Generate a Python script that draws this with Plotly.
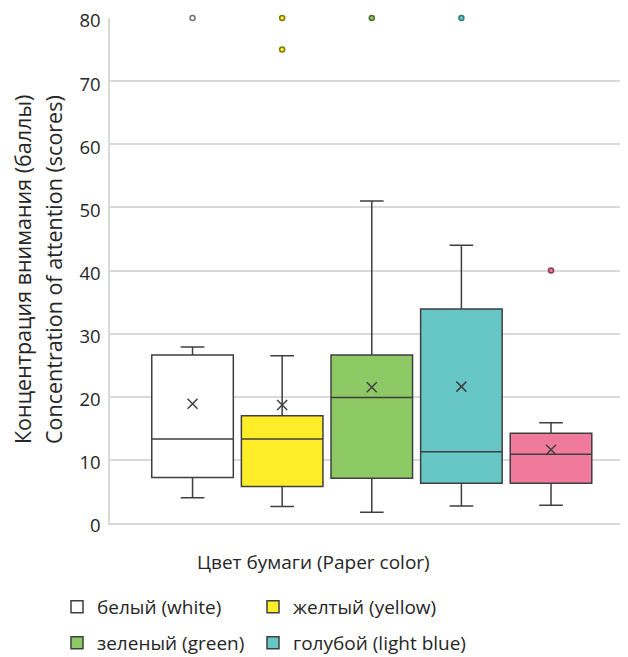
import plotly.graph_objects as go

names = ["белый (white)", "желтый (yellow)", "зеленый (green)", "голубой (light blue)", "розовый (pink)"]
positions = [0, 1, 2, 3, 4]
lower_fence = [4.0, 2.6, 1.7, 2.7, 2.8]
q1 = [7.2, 5.8, 7.1, 6.3, 6.3]
median = [13.3, 13.3, 19.9, 11.3, 10.9]
q3 = [26.6, 17.0, 26.6, 33.9, 14.2]
upper_fence = [27.9, 26.5, 51.0, 44.0, 15.9]
means = [18.9, 18.7, 21.5, 21.6, 11.6]
outliers = [[80], [80, 75], [80], [80], [40]]
fill_colors = ["#ffffff", "#ffed2a", "#8dc965", "#67c7c7", "#f07a9c"]
outlier_line = ["#707070", "#7a7a10", "#4d6e2c", "#2e7a7a", "#8a3a55"]
legend_ids = ["legend", "legend2", "legend3", "legend4", None]
y_ticks = [0, 10, 20, 30, 40, 50, 60, 70, 80]

fig = go.Figure()
for i in range(len(names)):
    fig.add_trace(go.Box(
        x=[positions[i]], name=names[i],
        q1=[q1[i]], median=[median[i]], q3=[q3[i]],
        lowerfence=[lower_fence[i]], upperfence=[upper_fence[i]],
        fillcolor=fill_colors[i], line=dict(color="#3f3f3f", width=1.5),
        width=0.91, whiskerwidth=0.29, boxpoints=False,
        showlegend=legend_ids[i] is not None,
        legend=legend_ids[i] if legend_ids[i] else "legend",
        hoverinfo="skip",
    ))
for i in range(len(names)):
    fig.add_trace(go.Scatter(
        x=[positions[i]] * len(outliers[i]), y=outliers[i], mode="markers",
        marker=dict(symbol="circle", size=5, color=fill_colors[i],
                    line=dict(color=outlier_line[i], width=1.5)),
        showlegend=False, cliponaxis=False, hoverinfo="skip",
    ))
fig.add_trace(go.Scatter(
    x=positions, y=means, mode="markers",
    marker=dict(symbol="x-thin", size=10, line=dict(color="#3f3f3f", width=1.5)),
    showlegend=False, hoverinfo="skip",
))

font = "Open Sans, DejaVu Sans, sans-serif"
# the page body adds an 8px offset; the figure is sized so it fills the window
OFF = 8
W, H = 628 - OFF, 657 - OFF
L, R, T = 110 - OFF, 0, 18 - OFF
B = H - (523 - OFF)
plot_w = W - L - R
plot_h = H - T - B

def px_x(px):
    return (px - OFF - L) / plot_w

def px_y(py):
    return (H - B - (py - OFF)) / plot_h

legend_common = dict(orientation="h", xanchor="left", yanchor="middle",
                     font=dict(size=19, family=font, color="#262626"),
                     itemwidth=30, bgcolor="rgba(0,0,0,0)")

fig.update_layout(
    width=W, height=H,
    margin=dict(l=L, r=R, t=T, b=B, autoexpand=False),
    paper_bgcolor="white", plot_bgcolor="white",
    font=dict(family=font, size=19, color="#262626"),
    boxmode="overlay",
    xaxis=dict(range=[-0.921, 4.859], showticklabels=False, showgrid=False,
               zeroline=False, showline=True, linecolor="#d9d9d9", linewidth=1.5,
               automargin=False),
    yaxis=dict(range=[0, 80.001], tickvals=y_ticks,
               showgrid=True, gridcolor="#d9d9d9", gridwidth=1.5,
               zeroline=False, showline=True, linecolor="#d9d9d9", linewidth=1.5,
               ticks="", ticklabelstandoff=4, ticklabelshift=3, tickfont=dict(size=18.5),
               ticklabeloverflow="allow", automargin=False),
    legend=dict(x=px_x(57), y=px_y(607), **legend_common),
    legend2=dict(x=px_x(253), y=px_y(607), **legend_common),
    legend3=dict(x=px_x(57), y=px_y(643), **legend_common),
    legend4=dict(x=px_x(253), y=px_y(643), **legend_common),
    annotations=[
        dict(text="Цвет бумаги (Paper color)", xref="paper", yref="paper",
             x=px_x(313.5), y=px_y(562), xanchor="center", yanchor="middle",
             showarrow=False, font=dict(size=19)),
        dict(text="Концентрация внимания (баллы)", xref="paper", yref="paper",
             x=px_x(22), y=px_y(270), xanchor="center", yanchor="middle",
             textangle=-90, showarrow=False, font=dict(size=21.5)),
        dict(text="Concentration of attention (scores)", xref="paper", yref="paper",
             x=px_x(53), y=px_y(270), xanchor="center", yanchor="middle",
             textangle=-90, showarrow=False, font=dict(size=21.5)),
    ],
)
fig.write_html("out.html")
